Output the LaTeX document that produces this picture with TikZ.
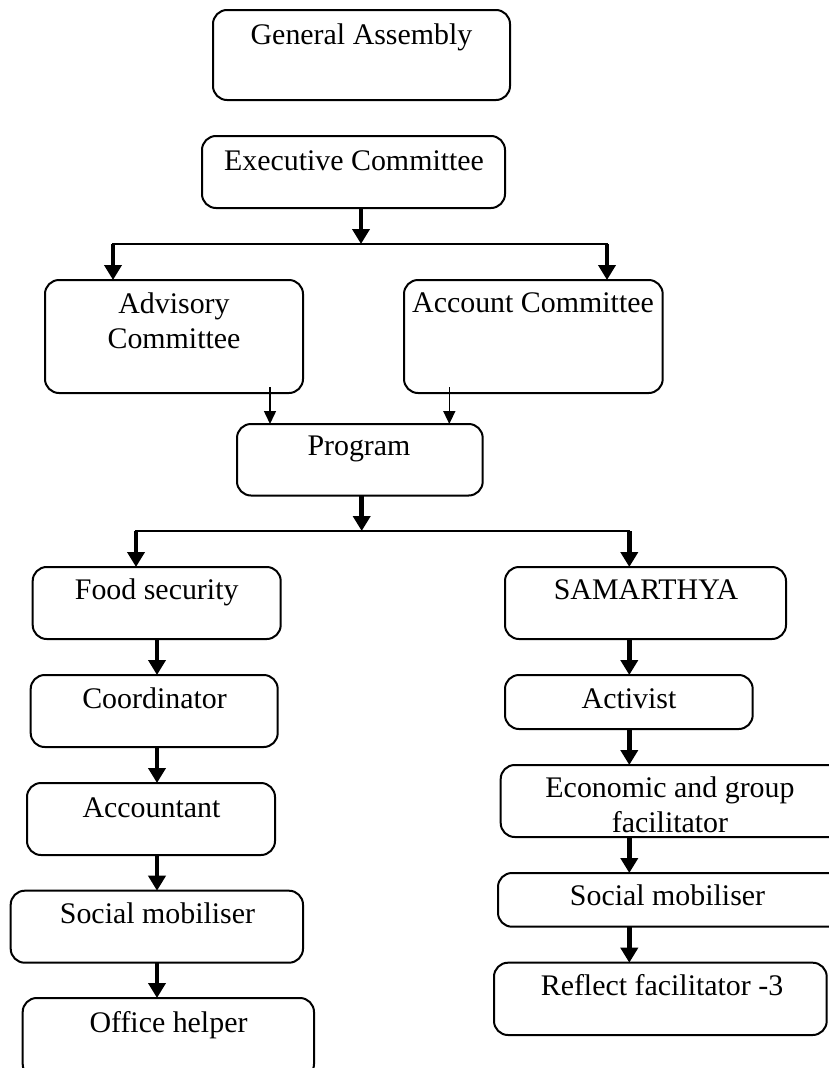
\documentclass[tikz,border=0pt]{standalone}
\usepackage{fontspec}
\setmainfont{Liberation Serif}
\usetikzlibrary{arrows.meta,fit}
\begin{document}
\begin{tikzpicture}[x=1pt,y=-1pt,
  box/.style={draw, line width=2pt, rounded corners=14pt, inner sep=0pt, outer sep=0pt},
  lbl/.style={anchor=base, inner sep=0pt, font=\fontsize{29.9}{34}\selectfont},
  bigarrow/.style={line width=4.5pt, -{Triangle[width=17pt,length=15pt]}},
  smallarrow/.style={line width=1.5pt, -{Triangle[width=12pt,length=13pt]}},
  bar/.style={line width=2.2pt, line cap=rect}]
\fill[white] (0,0) rectangle (828,1068);
\useasboundingbox (0,0) rectangle (828,1068);

% boxes
\node[box, fit={(213,10)(510,100)}] (ga) {};
\node[box, fit={(202,136)(505,208)}] (ex) {};
\node[box, fit={(45,280)(303,393)}] (adv) {};
\node[box, fit={(404,280)(662.7,393)}] (acc) {};
\node[box, fit={(237,424)(482.7,495.5)}] (prog) {};
\node[box, fit={(32.7,567)(280.7,639)}] (fs) {};
\node[box, fit={(505,567)(786,639)}] (sam) {};
\node[box, fit={(30.7,675)(277.7,747)}] (coord) {};
\node[box, fit={(27,783)(275,855)}] (acct) {};
\node[box, fit={(10.7,890.7)(303,962.7)}] (smL) {};
\node[box, fit={(22.7,998)(314,1078)}] (off) {};
\node[box, fit={(505,675)(752.7,729)}] (act) {};
\node[box, fit={(500.7,765)(848,837)}] (eco) {};
\node[box, fit={(498,873)(848,926.7)}] (smR) {};
\node[box, fit={(494,962.7)(826.7,1035)}] (refl) {};

% texts
\node[lbl] (gat) at (361.5,44) {General Assembly};
\node[lbl] (ext) at (354,170) {Executive Committee};
\node[lbl] (advt1) at (174,313) {Advisory};
\node[lbl] (advt2) at (174,348) {Committee};
\node[lbl] (acct1) at (533,312) {Account Committee};
\node[lbl] (progt) at (359,455) {Program};
\node[lbl] (fst) at (156.7,599) {Food security};
\node[lbl] (samt) at (646,599) {SAMARTHYA};
\node[lbl] (coordt) at (154.5,708) {Coordinator};
\node[lbl] (acctt) at (151.5,817) {Accountant};
\node[lbl] (smLt) at (157.5,923) {Social mobiliser};
\node[lbl] (offt) at (168.5,1032) {Office helper};
\node[lbl] (actt) at (629,708) {Activist};
\node[lbl] (ecot1) at (670,797) {Economic and group};
\node[lbl] (ecot2) at (670,832) {facilitator};
\node[lbl] (smRt) at (667.5,905) {Social mobiliser};
\node[lbl] (reflt) at (662,995) {Reflect facilitator -3};

% junction coordinates
\coordinate (j1) at (361,244);
\coordinate (b1) at (113,244);
\coordinate (b2) at (607,244);
\coordinate (x270) at (270,0);
\coordinate (x449) at (449.3,0);
\coordinate (j2) at (361.7,531);
\coordinate (c1) at (136,531);
\coordinate (c2) at (629.3,531);
\coordinate (xl) at (157,0);
\coordinate (xr) at (629.3,0);

% connectors
\draw[bigarrow] (ex.south -| j1) -- (j1);
\draw[bar] (b1) -- (b2);
\draw[bigarrow] (b1) -- (b1 |- adv.north);
\draw[bigarrow] (b2) -- (b2 |- acc.north);
\draw[smallarrow] ([yshift=6pt]adv.south -| x270) -- (prog.north -| x270);
\draw[smallarrow] ([yshift=6pt]acc.south -| x449) -- (prog.north -| x449);
\draw[bigarrow] (prog.south -| j2) -- (j2);
\draw[bar] (c1) -- (c2);
\draw[bigarrow] (c1) -- (c1 |- fs.north);
\draw[bigarrow] (c2) -- (c2 |- sam.north);

\draw[bigarrow] (fs.south -| xl) -- (coord.north -| xl);
\draw[bigarrow] (coord.south -| xl) -- (acct.north -| xl);
\draw[bigarrow] (acct.south -| xl) -- (smL.north -| xl);
\draw[bigarrow] (smL.south -| xl) -- (off.north -| xl);

\draw[bigarrow] (sam.south -| xr) -- (act.north -| xr);
\draw[bigarrow] (act.south -| xr) -- (eco.north -| xr);
\draw[bigarrow] (eco.south -| xr) -- (smR.north -| xr);
\draw[bigarrow] (smR.south -| xr) -- (refl.north -| xr);
\end{tikzpicture}
\end{document}
